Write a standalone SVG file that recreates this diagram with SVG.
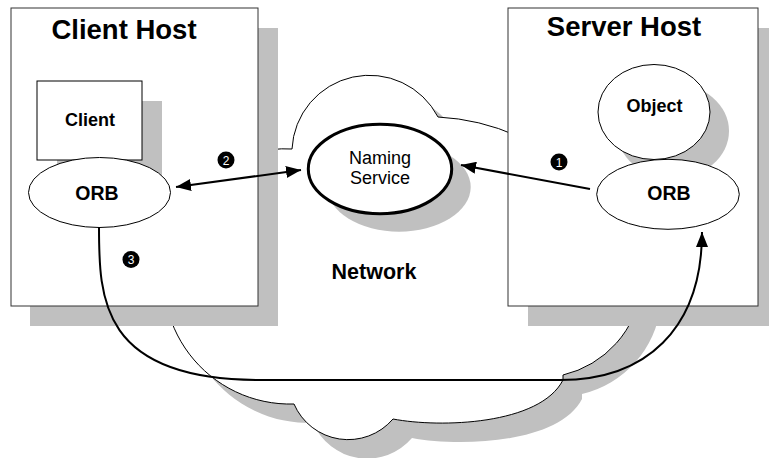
<svg xmlns="http://www.w3.org/2000/svg" width="769" height="458" viewBox="0 0 769 458">
<defs>
<style>
.shadow{fill:#c0c0c0;stroke:none}
.box{fill:#fff;stroke:#333;stroke-width:1}
.shape{fill:#fff;stroke:#000;stroke-width:1}
.title{font-family:"Liberation Sans",Arial,sans-serif;font-weight:bold;font-size:27.5px;text-anchor:middle;fill:#000}
.lbl{font-family:"Liberation Sans",Arial,sans-serif;font-weight:bold;font-size:18px;text-anchor:middle;fill:#000}
.orb{font-size:19.5px}
.reg{font-family:"Liberation Sans",Arial,sans-serif;font-size:18px;text-anchor:middle;fill:#000}
.num{font-family:"Liberation Sans",Arial,sans-serif;font-size:12px;text-anchor:middle;fill:#fff}
.conn{fill:none;stroke:#000;stroke-width:2}
</style>
<marker id="ah" viewBox="0 0 15 12" refX="15" refY="6" markerWidth="15" markerHeight="12" markerUnits="userSpaceOnUse" orient="auto-start-reverse">
<path d="M0,0 L15,6 L0,12 z" fill="#000"/>
</marker>
<path id="cloudShape" d="M292,149 A77.4,77.4 0 0 1 438,117 A224.7,224.7 0 0 1 585.4,182.6 A103,103 0 0 1 563,375 L563,380 C540,425 440,428 393,419 A59,59 0 0 1 294,404 A126.5,126.5 0 0 1 169.3,240 A119,119 0 0 1 292,149 Z"/>
</defs>

<g id="network">
<use href="#cloudShape" class="shadow" transform="translate(19,19)"/>
<use href="#cloudShape" class="shape"/>
<text class="title" x="374" y="279" style="font-size:21.5px">Network</text>
</g>

<g id="client-host">
<rect class="shadow" x="30" y="28" width="248" height="298"/>
<rect class="box" x="11" y="8" width="247" height="298"/>
<text class="title" x="124" y="39">Client Host</text>
</g>

<g id="server-host">
<rect class="shadow" x="528" y="28" width="250" height="298"/>
<rect class="box" x="508" y="8" width="250" height="298"/>
<text class="title" x="624" y="36">Server Host</text>
</g>

<g id="naming-service">
<ellipse class="shadow" cx="399" cy="187" rx="71.7" ry="44.7"/>
<ellipse cx="380" cy="169" rx="71.7" ry="44.7" fill="#fff" stroke="#000" stroke-width="3"/>
<text class="reg" x="380" y="164">Naming</text>
<text class="reg" x="380" y="184">Service</text>
</g>

<g id="client">
<rect class="shadow" x="57" y="101" width="105" height="79"/>
<rect class="shape" x="37" y="81" width="105" height="79"/>
<text class="lbl" x="90" y="126">Client</text>
</g>

<g id="client-orb">
<ellipse class="shape" cx="99.5" cy="192.5" rx="71" ry="35"/>
<text class="lbl orb" x="97" y="199.5">ORB</text>
</g>

<g id="object">
<ellipse class="shadow" cx="673" cy="131" rx="56" ry="47.5"/>
<ellipse class="shape" cx="654" cy="112" rx="56" ry="47.5"/>
<text class="lbl" x="654.5" y="112">Object</text>
</g>

<g id="server-orb">
<ellipse class="shape" cx="668" cy="194.3" rx="71.3" ry="35"/>
<text class="lbl orb" x="669" y="199.5">ORB</text>
</g>

<g id="connectors">
<line class="conn" x1="176" y1="187" x2="301" y2="170" marker-start="url(#ah)" marker-end="url(#ah)"/>
<line class="conn" x1="590" y1="189" x2="461" y2="165" marker-end="url(#ah)"/>
<path class="conn" d="M99,227 C99,298 100,380 260,380 L560,380 C645,380 702,330 702,232" marker-end="url(#ah)"/>
</g>

<g id="badge-1">
<circle cx="559" cy="162" r="8.5" fill="#000"/>
<text class="num" x="559" y="166.5">1</text>
</g>
<g id="badge-2">
<circle cx="226" cy="160" r="8.5" fill="#000"/>
<text class="num" x="226" y="164.5">2</text>
</g>
<g id="badge-3">
<circle cx="131" cy="259.5" r="8.5" fill="#000"/>
<text class="num" x="131" y="264">3</text>
</g>
</svg>
